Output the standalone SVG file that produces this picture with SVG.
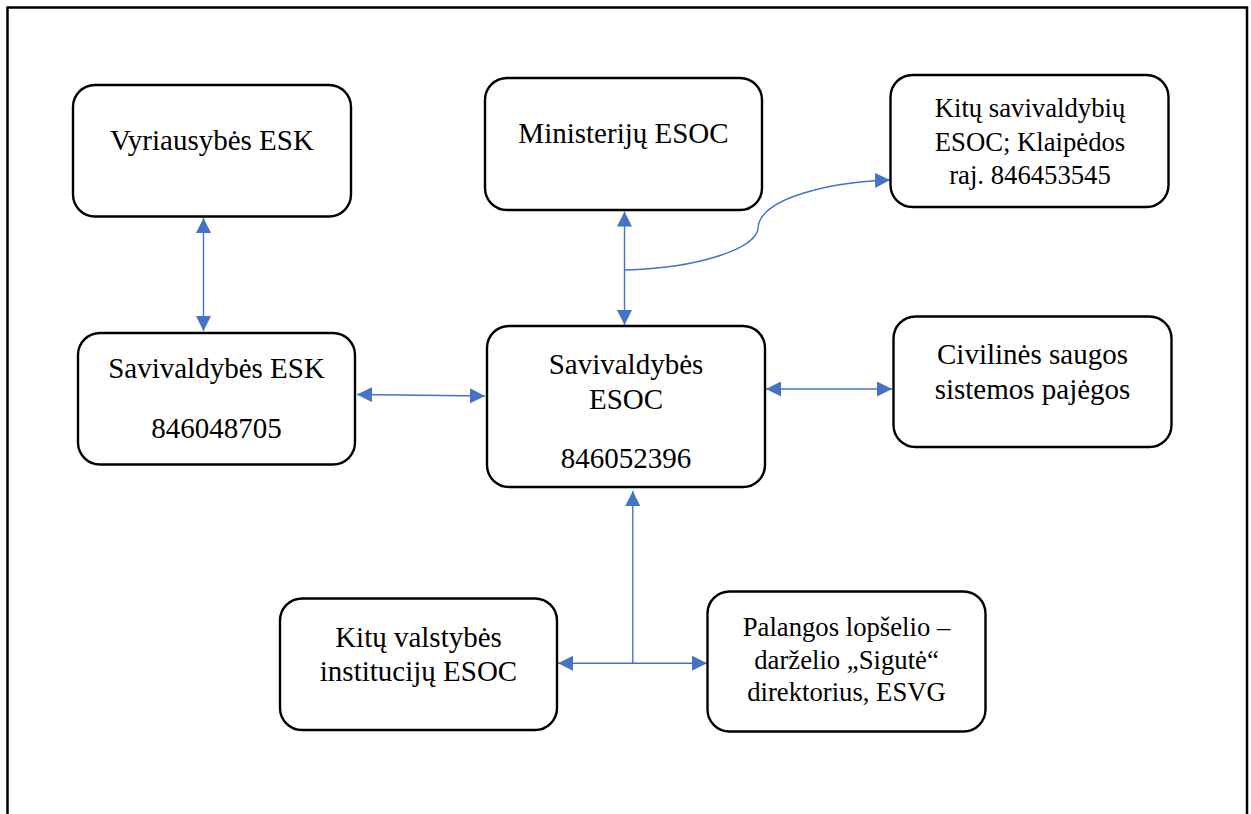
<svg xmlns="http://www.w3.org/2000/svg" width="1251" height="814" viewBox="0 0 1251 814">
<style>
.box{fill:#fff;stroke:#000;stroke-width:2.4}
.t{font-family:"Liberation Serif","Times New Roman",serif;font-size:29px;fill:#000;text-anchor:middle}
.s{font-size:26.7px}
.c{fill:none;stroke:#4472C4;stroke-width:1.4}
</style>
<defs>
<marker id="a" viewBox="0 0 10 10" refX="10" refY="5" markerWidth="15" markerHeight="15" markerUnits="userSpaceOnUse" orient="auto-start-reverse">
<path d="M0,0 L10,5 L0,10 Z" fill="#4472C4"/>
</marker>
</defs>
<rect width="1251" height="814" fill="#fff"/>
<path d="M7.5,814 V7.5 H1247 V814" fill="none" stroke="#000" stroke-width="2.5"/>

<g id="connectors">
<line class="c" x1="203.5" y1="218" x2="203.5" y2="331" marker-start="url(#a)" marker-end="url(#a)"/>
<line class="c" x1="624.5" y1="211.5" x2="624.5" y2="325" marker-start="url(#a)" marker-end="url(#a)"/>
<path class="c" d="M625,270 C700,268 757,248 758,228 C760,198 830,182 890,180" marker-end="url(#a)"/>
<line class="c" x1="357" y1="394.5" x2="485" y2="396" marker-start="url(#a)" marker-end="url(#a)"/>
<line class="c" x1="766" y1="389" x2="892" y2="389" marker-start="url(#a)" marker-end="url(#a)"/>
<line class="c" x1="632.8" y1="663.3" x2="632.8" y2="491" marker-end="url(#a)"/>
<line class="c" x1="558" y1="663.3" x2="707" y2="663.3" marker-start="url(#a)" marker-end="url(#a)"/>
</g>

<g id="n-vyriausybes">
<rect class="box" x="73" y="85" width="278" height="131.5" rx="22"/>
<text class="t" x="212" y="150">Vyriausybės ESK</text>
</g>
<g id="n-ministeriju">
<rect class="box" x="485" y="78" width="277" height="132" rx="22"/>
<text class="t" x="623.5" y="143">Ministerijų ESOC</text>
</g>
<g id="n-kitu-savivaldybiu">
<rect class="box" x="890.5" y="75" width="278" height="132" rx="22"/>
<text class="t s" x="1030" y="117">Kitų savivaldybių</text>
<text class="t s" x="1030" y="151">ESOC; Klaipėdos</text>
<text class="t s" x="1030" y="184">raj. 846453545</text>
</g>
<g id="n-sav-esk">
<rect class="box" x="78" y="333" width="277" height="131.5" rx="22"/>
<text class="t" x="216.5" y="378">Savivaldybės ESK</text>
<text class="t" x="216.5" y="438">846048705</text>
</g>
<g id="n-sav-esoc">
<rect class="box" x="487" y="326" width="278" height="161" rx="22"/>
<text class="t" x="626" y="374">Savivaldybės</text>
<text class="t" x="626" y="409">ESOC</text>
<text class="t" x="626" y="468">846052396</text>
</g>
<g id="n-civilines">
<rect class="box" x="893.5" y="316.5" width="278" height="130.5" rx="22"/>
<text class="t" x="1032.5" y="364">Civilinės saugos</text>
<text class="t" x="1032.5" y="399">sistemos pajėgos</text>
</g>
<g id="n-kitu-valstybes">
<rect class="box" x="280" y="598.5" width="277" height="131.5" rx="22"/>
<text class="t" x="418.5" y="647">Kitų valstybės</text>
<text class="t" x="418.5" y="681">institucijų ESOC</text>
</g>
<g id="n-palangos">
<rect class="box" x="707.5" y="591.5" width="278" height="140" rx="22"/>
<text class="t s" x="846.5" y="636">Palangos lopšelio –</text>
<text class="t s" x="846.5" y="669">darželio „Sigutė“</text>
<text class="t s" x="846.5" y="701">direktorius, ESVG</text>
</g>
</svg>
